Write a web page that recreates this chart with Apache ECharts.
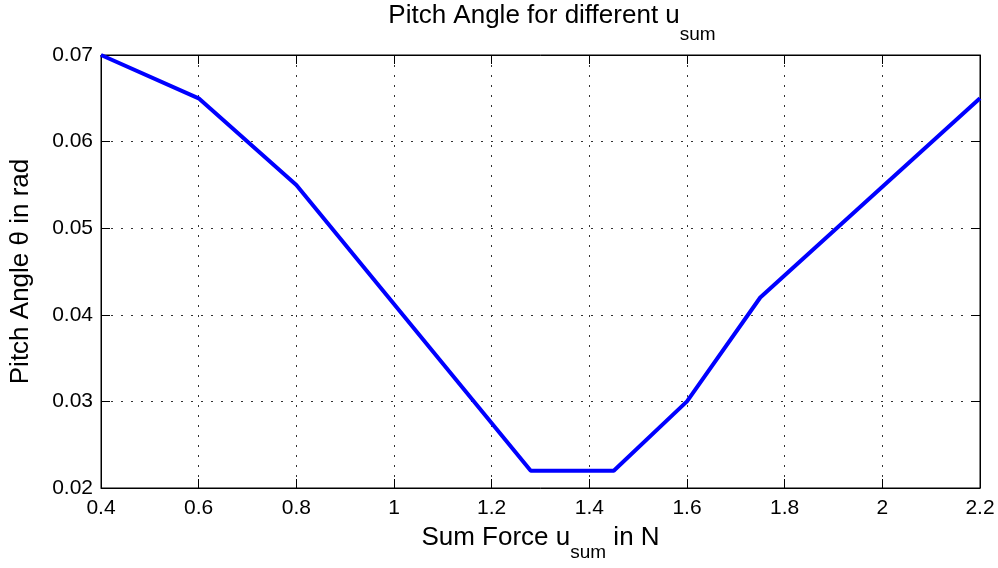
<!DOCTYPE html>
<html><head><meta charset="utf-8">
<script src="https://cdn.jsdelivr.net/npm/echarts@6/dist/echarts.min.js"></script>
<style>html,body{margin:0;padding:0;background:#fff}#c{width:998px;height:568px}</style>
</head><body><div id="c"></div>
<script>
const uSum = [0.4, 0.6, 0.8, 1.28, 1.45, 1.6, 1.75, 2.2];
const pitch = [0.070, 0.065, 0.055, 0.022, 0.022, 0.030, 0.042, 0.065];
const xTickLabels = ['0.4','0.6','0.8','1','1.2','1.4','1.6','1.8','2','2.2'];
const yTickLabels = ['0.02','0.03','0.04','0.05','0.06','0.07'];

const font = 'Liberation Sans, Arial, Helvetica, sans-serif';
const chart = echarts.init(document.getElementById('c'));
const richFor = (subPad) => ({
  m:{fontSize:26, fontFamily:font, color:'#000', lineHeight:30, verticalAlign:'top'},
  sub:{fontSize:19, fontFamily:font, color:'#000', lineHeight:22, verticalAlign:'top', padding:[subPad,0,0,0]}
});
const fmtX = v => { const i = Math.round((v-0.4)/0.2); return xTickLabels[i] ?? ''; };
const fmtY = v => { const i = Math.round((v-0.02)/0.01); return yTickLabels[i] ?? ''; };
const lineStyle = {color:'#000', width:1};
const gridLine = {show:true, lineStyle:{color:'#333', type:[2,8], width:1}};
chart.setOption({
  animation:false,
  title:{text:'{m|Pitch Angle for different u}{sub|sum}', left:547, textAlign:'center', top:-2,
    textStyle:{fontFamily:font, fontSize:26, fontWeight:'normal', color:'#000', rich:richFor(22)}},
  grid:{left:99, right:18, top:55, bottom:80, show:true, borderColor:'#000', borderWidth:1},
  xAxis:[{type:'value', min:0.4, max:2.2, interval:0.2, position:'bottom',
    name:'{m|Sum Force u}{sub|sum}{m| in N}', nameLocation:'middle', nameGap:37,
    nameTextStyle:{fontFamily:font, fontSize:26, color:'#000', rich:richFor(18)},
    axisLine:{show:true, lineStyle}, axisTick:{show:true, inside:true, length:9, lineStyle},
    axisLabel:{formatter:fmtX, fontFamily:font, fontSize:21, color:'#000', margin:10},
    splitLine:gridLine},
   {type:'value', min:0.4, max:2.2, interval:0.2, position:'top',
    axisLine:{show:true, lineStyle}, axisTick:{show:true, inside:true, length:9, lineStyle},
    axisLabel:{show:false}, splitLine:{show:false}}],
  yAxis:[{type:'value', min:0.02, max:0.07, interval:0.01, position:'left',
    name:'Pitch Angle θ in rad', nameLocation:'middle', nameGap:67,
    nameTextStyle:{fontFamily:font, fontSize:26, color:'#000'},
    axisLine:{show:true, lineStyle}, axisTick:{show:true, inside:true, length:9, lineStyle},
    axisLabel:{formatter:fmtY, fontFamily:font, fontSize:21, color:'#000', margin:8},
    splitLine:gridLine},
   {type:'value', min:0.02, max:0.07, interval:0.01, position:'right',
    axisLine:{show:true, lineStyle}, axisTick:{show:true, inside:true, length:9, lineStyle},
    axisLabel:{show:false}, splitLine:{show:false}}],
  series:[{type:'line', data:uSum.map((x,i)=>[x,pitch[i]]), symbol:'none',
    lineStyle:{color:'#0000ff', width:4}, xAxisIndex:0, yAxisIndex:0}]
});
</script></body></html>
